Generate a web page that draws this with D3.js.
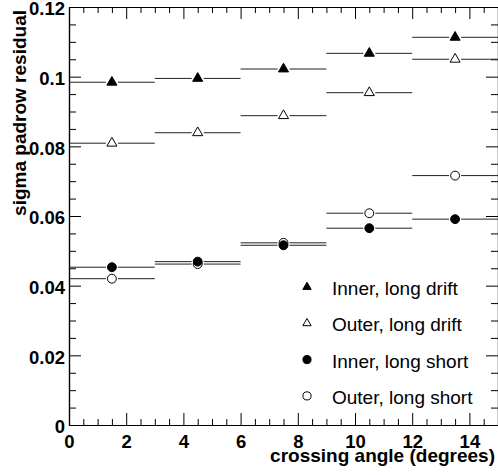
<!DOCTYPE html>
<html>
<head>
<meta charset="utf-8">
<script src="https://cdn.jsdelivr.net/npm/d3@7"></script>
<style>
  body { margin: 0; background: #fff; }
  svg { display: block; font-family: "Liberation Sans", Arial, Helvetica, sans-serif; }
</style>
</head>
<body>
<div id="chart"></div>
<script>
// bin centres (degrees), each bin is 3 degrees wide
const angles = [1.5, 4.5, 7.5, 10.5, 13.5];
const binHalfWidth = 1.5;

const innerLongDrift = [0.0984, 0.0995, 0.1022, 0.1067, 0.1113];
const outerLongDrift = [0.0809, 0.0839, 0.0888, 0.0954, 0.1050];
const innerLongShort = [0.0453, 0.0469, 0.0516, 0.0565, 0.0591];
const outerLongShort = [0.0420, 0.0462, 0.0523, 0.0608, 0.0716];

const xTicks = [0, 2, 4, 6, 8, 10, 12, 14];
const yTicks = [0, 0.02, 0.04, 0.06, 0.08, 0.1, 0.12];
const yTickLabels = ["0", "0.02", "0.04", "0.06", "0.08", "0.1", "0.12"];

const legendNames = ["Inner, long drift", "Outer, long drift", "Inner, long short", "Outer, long short"];

const series = [
  { name: legendNames[1], values: outerLongDrift, shape: d3.symbolTriangle, filled: false },
  { name: legendNames[0], values: innerLongDrift, shape: d3.symbolTriangle, filled: true },
  { name: legendNames[3], values: outerLongShort, shape: d3.symbolCircle, filled: false },
  { name: legendNames[2], values: innerLongShort, shape: d3.symbolCircle, filled: true }
];

const W = 498, H = 475;
const margin = { top: 7, right: 0, bottom: 50, left: 69 };
const width = W - margin.left - margin.right;
const height = H - margin.top - margin.bottom;

const svg = d3.select("#chart").append("svg")
  .attr("width", W)
  .attr("height", H);

const g = svg.append("g")
  .attr("transform", `translate(${margin.left},${margin.top})`);

const x = d3.scaleLinear().domain([0, 15]).range([0, width]);
const y = d3.scaleLinear().domain([0, 0.12]).range([height, 0]);

const xMinor = d3.range(0, 15.01, 0.5).filter(v => v % 2 !== 0);
const yMinor = d3.range(0, 0.1201, 0.005).filter((v, i) => i % 4 !== 0);

function styleAxis(sel) {
  sel.select(".domain").attr("stroke", "#000").attr("stroke-width", 1.2);
  sel.selectAll(".tick line").attr("stroke", "#000").attr("stroke-width", 1);
  sel.selectAll("text")
    .style("font-size", "18.5px")
    .style("font-weight", "bold")
    .attr("fill", "#000");
}

// bottom axis
g.append("g")
  .attr("transform", `translate(0,${height})`)
  .call(d3.axisBottom(x).tickValues(xMinor).tickSize(-6).tickSizeOuter(0).tickFormat(""))
  .call(styleAxis);
g.append("g")
  .attr("transform", `translate(0,${height})`)
  .call(d3.axisBottom(x).tickValues(xTicks).tickSize(-12).tickSizeOuter(0).tickPadding(10).tickFormat(d3.format("d")))
  .call(styleAxis);

// top axis
g.append("g")
  .call(d3.axisTop(x).tickValues(xMinor).tickSize(-6).tickSizeOuter(0).tickFormat(""))
  .call(styleAxis);
g.append("g")
  .call(d3.axisTop(x).tickValues(xTicks).tickSize(-12).tickSizeOuter(0).tickFormat(""))
  .call(styleAxis);

// left axis
g.append("g")
  .call(d3.axisLeft(y).tickValues(yMinor).tickSize(-7).tickSizeOuter(0).tickFormat(""))
  .call(styleAxis);
g.append("g")
  .call(d3.axisLeft(y).tickValues(yTicks).tickSize(-12).tickSizeOuter(0).tickPadding(4)
    .tickFormat((d, i) => yTickLabels[i]))
  .call(styleAxis)
  .selectAll("text").attr("dy", "0.42em");

// right axis
g.append("g")
  .attr("transform", `translate(${width},0)`)
  .call(d3.axisRight(y).tickValues(yMinor).tickSize(-7).tickSizeOuter(0).tickFormat(""))
  .call(styleAxis);
g.append("g")
  .attr("transform", `translate(${width},0)`)
  .call(d3.axisRight(y).tickValues(yTicks).tickSize(-12).tickSizeOuter(0).tickFormat(""))
  .call(styleAxis);

// data: horizontal bin-width bars with a gap around each marker
const gap = 6;
series.forEach(s => {
  const pts = angles.map((a, i) => ({ a: a, v: s.values[i] }));
  const grp = g.append("g");
  pts.forEach(p => {
    const cx = x(p.a), cy = y(p.v);
    grp.append("line")
      .attr("x1", x(p.a - binHalfWidth)).attr("x2", cx - gap)
      .attr("y1", cy).attr("y2", cy)
      .attr("stroke", "#222").attr("stroke-width", 1);
    grp.append("line")
      .attr("x1", cx + gap).attr("x2", x(p.a + binHalfWidth))
      .attr("y1", cy).attr("y2", cy)
      .attr("stroke", "#222").attr("stroke-width", 1);
  });
  grp.selectAll("path.marker")
    .data(pts)
    .enter()
    .append("path")
    .attr("class", "marker")
    .attr("d", d3.symbol(s.shape, s.shape === d3.symbolTriangle ? 44 : 62))
    .attr("transform", d => `translate(${x(d.a)},${y(d.v)})`)
    .attr("fill", s.filled ? "#000" : "#fff")
    .attr("stroke", "#000")
    .attr("stroke-width", 1);
});

// legend
const legendRows = [
  { name: legendNames[0], shape: d3.symbolTriangle, filled: true },
  { name: legendNames[1], shape: d3.symbolTriangle, filled: false },
  { name: legendNames[2], shape: d3.symbolCircle, filled: true },
  { name: legendNames[3], shape: d3.symbolCircle, filled: false }
];
const legend = svg.append("g").attr("transform", "translate(307,287)");
legend.selectAll(".legend-item")
  .data(legendRows)
  .enter()
  .append("g")
  .attr("class", "legend-item")
  .attr("transform", (d, i) => `translate(0,${i * 36.3})`)
  .each(function(d) {
    const item = d3.select(this);
    item.append("path")
      .attr("d", d3.symbol(d.shape, d.shape === d3.symbolTriangle ? 30 : 52))
      .attr("fill", d.filled ? "#000" : "#fff")
      .attr("stroke", "#000")
      .attr("stroke-width", 1);
    item.append("text")
      .attr("x", 25)
      .attr("y", 8)
      .text(d.name)
      .style("font-size", "19px")
      .attr("fill", "#000");
  });

// axis titles
svg.append("text")
  .attr("x", 495)
  .attr("y", 462)
  .attr("text-anchor", "end")
  .style("font-size", "19px")
  .style("font-weight", "bold")
  .text("crossing angle (degrees)");

svg.append("text")
  .attr("transform", "translate(26,10) rotate(-90)")
  .attr("text-anchor", "end")
  .style("font-size", "19px")
  .style("font-weight", "bold")
  .text("sigma padrow residual");
</script>
</body>
</html>
